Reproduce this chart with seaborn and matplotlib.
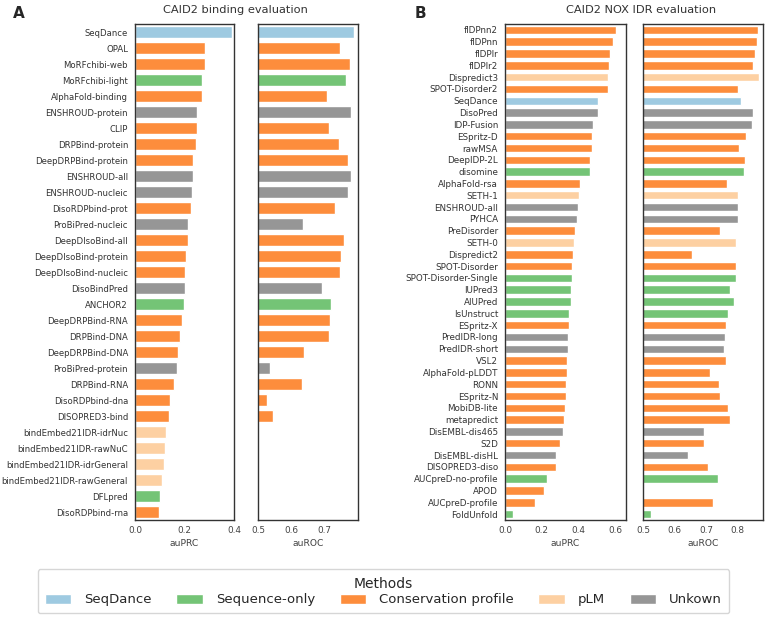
# CAID2 binding / NOX IDR evaluation bar charts (auPRC and auROC)

import numpy as np
import pandas as pd
import matplotlib
matplotlib.use("Agg")
import matplotlib.pyplot as plt
from matplotlib.patches import Patch
import seaborn as sns

# method groups and their colours
groups = ["SeqDance", "Sequence-only", "Conservation profile", "pLM", "Unkown"]
group_colors = ["#9ecae1", "#74c476", "#fd8d3c", "#fdd0a2", "#969696"]
palette = dict(zip(groups, group_colors))

# ---- panel A: CAID2 binding ----
bind_methods = ["SeqDance", "OPAL", "MoRFchibi-web", "MoRFchibi-light", "AlphaFold-binding",
                "ENSHROUD-protein", "CLIP", "DRPBind-protein", "DeepDRPBind-protein", "ENSHROUD-all",
                "ENSHROUD-nucleic", "DisoRDPbind-prot", "ProBiPred-nucleic", "DeepDIsoBind-all",
                "DeepDIsoBind-protein", "DeepDIsoBind-nucleic", "DisoBindPred", "ANCHOR2",
                "DeepDRPBind-RNA", "DRPBind-DNA", "DeepDRPBind-DNA", "ProBiPred-protein", "DRPBind-RNA",
                "DisoRDPbind-dna", "DISOPRED3-bind", "bindEmbed21IDR-idrNuc", "bindEmbed21IDR-rawNuC",
                "bindEmbed21IDR-idrGeneral", "bindEmbed21IDR-rawGeneral", "DFLpred", "DisoRDPbind-rna"]
bind_groups = ["SeqDance", "Conservation profile", "Conservation profile", "Sequence-only",
               "Conservation profile", "Unkown", "Conservation profile", "Conservation profile",
               "Conservation profile", "Unkown", "Unkown", "Conservation profile", "Unkown",
               "Conservation profile", "Conservation profile", "Conservation profile", "Unkown",
               "Sequence-only", "Conservation profile", "Conservation profile", "Conservation profile",
               "Unkown", "Conservation profile", "Conservation profile", "Conservation profile",
               "pLM", "pLM", "pLM", "pLM", "Sequence-only", "Conservation profile"]
bind_auprc = [0.391, 0.284, 0.284, 0.272, 0.271, 0.252, 0.252, 0.245, 0.233, 0.233, 0.232,
              0.226, 0.214, 0.213, 0.207, 0.203, 0.201, 0.197, 0.191, 0.182, 0.175, 0.170,
              0.156, 0.140, 0.138, 0.125, 0.122, 0.117, 0.108, 0.100, 0.097]
bind_auroc = [0.789, 0.748, 0.778, 0.766, 0.709, 0.781, 0.715, 0.745, 0.772, 0.779, 0.770,
              0.731, 0.636, 0.758, 0.751, 0.748, 0.694, 0.720, 0.718, 0.714, 0.638, 0.537,
              0.633, 0.527, 0.545, np.nan, np.nan, np.nan, np.nan, np.nan, np.nan]

# ---- panel B: CAID2 NOX IDR ----
idr_methods = ["fIDPnn2", "fIDPnn", "fIDPlr", "fIDPlr2", "Dispredict3", "SPOT-Disorder2", "SeqDance",
               "DisoPred", "IDP-Fusion", "ESpritz-D", "rawMSA", "DeepIDP-2L", "disomine",
               "AlphaFold-rsa", "SETH-1", "ENSHROUD-all", "PYHCA", "PreDisorder", "SETH-0",
               "Dispredict2", "SPOT-Disorder", "SPOT-Disorder-Single", "IUPred3", "AIUPred",
               "IsUnstruct", "ESpritz-X", "PredIDR-long", "PredIDR-short", "VSL2", "AlphaFold-pLDDT",
               "RONN", "ESpritz-N", "MobiDB-lite", "metapredict", "DisEMBL-dis465", "S2D",
               "DisEMBL-disHL", "DISOPRED3-diso", "AUCpreD-no-profile", "APOD", "AUCpreD-profile",
               "FoldUnfold"]
C = "Conservation profile"
S = "Sequence-only"
U = "Unkown"
idr_groups = [C, C, C, C, "pLM", C, "SeqDance", U, U, C, C, C, S, C, "pLM", U, U, C, "pLM",
              C, C, S, S, S, S, C, U, U, C, C, C, C, C, C, U, C, U, C, S, C, C, S]
idr_auprc = [0.605, 0.591, 0.573, 0.567, 0.564, 0.562, 0.509, 0.507, 0.478, 0.475, 0.473,
             0.464, 0.462, 0.409, 0.404, 0.396, 0.393, 0.384, 0.376, 0.373, 0.367, 0.365,
             0.362, 0.360, 0.349, 0.347, 0.342, 0.342, 0.340, 0.336, 0.335, 0.333, 0.329,
             0.322, 0.315, 0.300, 0.280, 0.278, 0.227, 0.213, 0.165, 0.042]
idr_auroc = [0.863, 0.861, 0.854, 0.847, 0.866, 0.802, 0.811, 0.847, 0.844, 0.827, 0.805,
             0.824, 0.821, 0.767, 0.801, 0.802, 0.801, 0.744, 0.794, 0.655, 0.794, 0.794,
             0.776, 0.788, 0.768, 0.764, 0.760, 0.756, 0.764, 0.711, 0.741, 0.745, 0.768,
             0.777, 0.693, 0.693, 0.644, 0.706, 0.737, np.nan, 0.721, 0.524]

bind_df = pd.DataFrame({"method": bind_methods, "group": bind_groups,
                        "auPRC": bind_auprc, "auROC": bind_auroc})
idr_df = pd.DataFrame({"method": idr_methods, "group": idr_groups,
                       "auPRC": idr_auprc, "auROC": idr_auroc})

sns.set_style("white")
plt.rcParams["font.family"] = ["DejaVu Sans"]

fig = plt.figure(figsize=(7.68, 6.18), dpi=100)

W, H = 768.0, 618.0
bottom = (H - 520) / H
height = 496 / H
ax1 = fig.add_axes([135 / W, bottom, 99 / W, height])
ax2 = fig.add_axes([258 / W, bottom, 100 / W, height])
ax3 = fig.add_axes([505 / W, bottom, 121 / W, height])
ax4 = fig.add_axes([643 / W, bottom, 120 / W, height])


def draw(ax, df, col, xlim, ticks, name_size):
    d = df.dropna(subset=[col])
    sns.barplot(data=d, x=col, y="method", hue="group", palette=palette, order=list(df["method"]),
                dodge=False, legend=False, width=0.72, saturation=1, ax=ax, orient="h")
    ax.set_ylim(len(df) - 0.5, -0.5)
    ax.set_xlim(*xlim)
    ax.set_xticks(ticks)
    ax.set_xticklabels([f"{t:.1f}" for t in ticks], fontsize=6.4, color="#444444")
    ax.set_xlabel(col, fontsize=6.6, color="#444444", labelpad=3)
    ax.set_ylabel("")
    if name_size:
        ax.tick_params(axis="y", labelsize=name_size, labelcolor="#333333", pad=5)
    else:
        ax.set_yticklabels([])
    ax.tick_params(length=0)
    ax.tick_params(axis="x", pad=4)
    for s in ax.spines.values():
        s.set_color("#333333")
        s.set_linewidth(1.0)


draw(ax1, bind_df, "auPRC", (0, 0.4), [0.0, 0.2, 0.4], 6.15)
draw(ax2, bind_df, "auROC", (0.5, 0.801), [0.5, 0.6, 0.7], None)
draw(ax3, idr_df, "auPRC", (0, 0.66), [0.0, 0.2, 0.4, 0.6], 6.3)
draw(ax4, idr_df, "auROC", (0.5, 0.88), [0.5, 0.6, 0.7, 0.8], None)

# titles and panel letters
fig.text(235 / W, 1 - 10 / H, "CAID2 binding evaluation", ha="center", va="center", fontsize=8.2, color="#333333")
fig.text(641 / W, 1 - 10 / H, "CAID2 NOX IDR evaluation", ha="center", va="center", fontsize=8.2, color="#333333")
fig.text(13 / W, 1 - 13 / H, "A", ha="left", va="center", fontsize=11, fontweight="bold")
fig.text(415 / W, 1 - 13 / H, "B", ha="left", va="center", fontsize=11, fontweight="bold")

# shared legend
handles = [Patch(facecolor=c, label=g) for g, c in zip(groups, group_colors)]
leg = fig.legend(handles=handles, title="Methods", ncol=5, loc="lower center",
                 bbox_to_anchor=(383.5 / W, -2 / H), fontsize=9.5, title_fontsize=10,
                 frameon=True, handlelength=2.0, handleheight=0.8, handletextpad=1.0,
                 columnspacing=1.85, borderpad=0.55, labelspacing=0.2)
leg.get_frame().set_edgecolor("#cccccc")

fig.savefig("out.png", dpi=100)
